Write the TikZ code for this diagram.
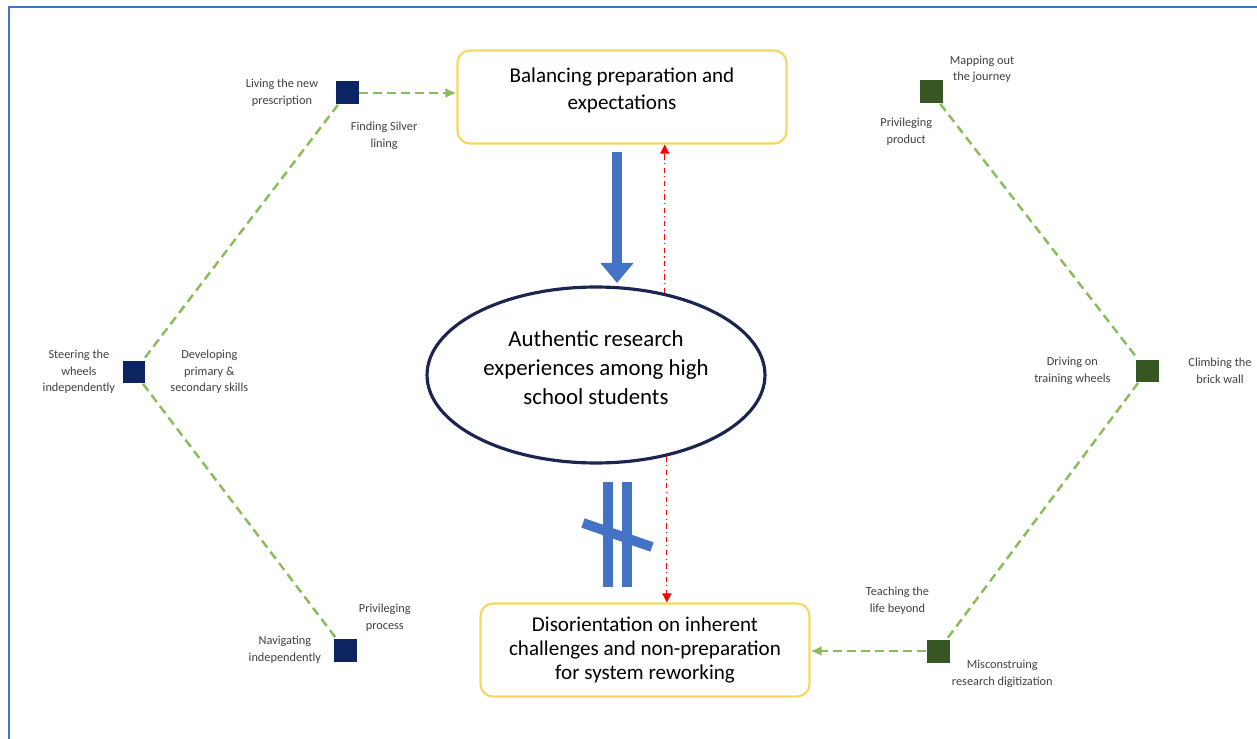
\documentclass[tikz,border=0pt]{standalone}
\usepackage{fontspec}
\setmainfont{Carlito}
\usetikzlibrary{arrows.meta,positioning,shapes.geometric}
\definecolor{Frame}{HTML}{4472C4}
\definecolor{Navy}{HTML}{0C2461}
\definecolor{Forest}{HTML}{375623}
\definecolor{Leaf}{HTML}{8CBB5C}
\definecolor{Gold}{HTML}{F5D862}
\definecolor{Ink}{HTML}{1B2550}
\definecolor{Muted}{HTML}{404040}
\tikzset{theme/.style={rounded corners=7pt,draw=Gold,line width=1.2pt,minimum width=6.58cm,minimum height=1.86cm,align=center,font=\fontsize{12}{15.5}\selectfont},navsq/.style={rectangle,fill=Navy,minimum size=.46cm,inner sep=0pt},grnsq/.style={rectangle,fill=Forest,minimum size=.46cm,inner sep=0pt},lbl/.style={align=center,font=\fontsize{7}{9.5}\selectfont,text=Muted,inner sep=1pt},link/.style={draw=Leaf,line width=1.4pt,dash pattern=on 5pt off 3pt},feed/.style={link,-{Latex[length=2.2mm,width=2mm]}},rel/.style={draw=red,line width=.6pt,dash dot,-{Triangle[length=1.8mm,width=1.8mm]}},bigarrow/.style={draw=Frame,line width=5.6pt,-{Triangle[length=4mm,width=6.4mm]}},bar/.style={draw=Frame,line width=5.6pt}}
\begin{document}
\begin{tikzpicture}[x=.02cm,y=-.02cm]
      \useasboundingbox (0,0) rectangle (1257,739);
      \draw[Frame,line width=1.2pt](9,739)--(9,7)--(1257,7);
      % central themes
      \node[theme](top) at (622,97){Balancing preparation and\\expectations\vphantom{g}\\[-.5em]};
      \node[theme,font=\fontsize{12}{13.8}\selectfont](bot) at (645,650){Disorientation on inherent\\challenges and non-preparation\\for system reworking};
      \node[ellipse,draw=Ink,line width=1.8pt,minimum width=6.76cm,minimum height=3.52cm,inner sep=0pt](core) at (596,375){};
      \node[align=center,font=\fontsize{13}{16.5}\selectfont](coretext) at (596,368){Authentic research\\experiences among high\\school students};
      \draw[bigarrow]([xshift=-.1cm,yshift=-.14cm]top.south)--([xshift=-.1cm,yshift=.05cm]top.south |- core.north);
      \draw[rel](core.50)--(core.50 |- top.south);\draw[rel](core.-49)--(core.-49 |- bot.north);
      % broken link
      \draw[bar](608,482)--(608,587);\draw[bar](627,482)--(627,587);\draw[bar](583,523)--(652,547);
      % left chain
      \node[navsq](living) at (347,93){};
      \node[navsq](steering) at (134,372){};
      \node[navsq](navigating) at (345,650){};
      \node[lbl,left=.3cm of living]{Living the new\\prescription};
      \node[lbl,below right=.3cm and -.2cm of living]{Finding Silver\\lining};
      \node[lbl,left=.1cm of steering]{Steering the\\wheels\\independently};
      \node[lbl,right=.45cm of steering]{Developing\\primary \&\\secondary skills};
      \node[lbl,above right=.1cm and 0cm of navigating]{Privileging\\process};
      \node[lbl,left=.2cm of navigating]{Navigating\\independently};
      \draw[link](living)--(steering);\draw[link](steering)--(navigating);
      \draw[feed](living)--(living -| top.west);
      % right chain
      \node[grnsq](mapping) at (931,92){};
      \node[grnsq](climbing) at (1147,371){};
      \node[grnsq](teaching) at (938,651){};
      \node[lbl,above right=-.1cm and .1cm of mapping]{Mapping out\\the journey};
      \node[lbl,below left=.25cm and -.3cm of mapping]{Privileging\\product};
      \node[lbl,left=.45cm of climbing]{Driving on\\training wheels};
      \node[lbl,right=.55cm of climbing]{Climbing the\\brick wall};
      \node[lbl,above left=.45cm and -.1cm of teaching]{Teaching the\\life beyond};
      \node[lbl,below right=-.1cm and 0cm of teaching]{Misconstruing\\research digitization};
      \draw[link](mapping)--(climbing);\draw[link](climbing)--(teaching);
      \draw[feed](teaching)--(teaching -| bot.east);
    \end{tikzpicture}
\end{document}
